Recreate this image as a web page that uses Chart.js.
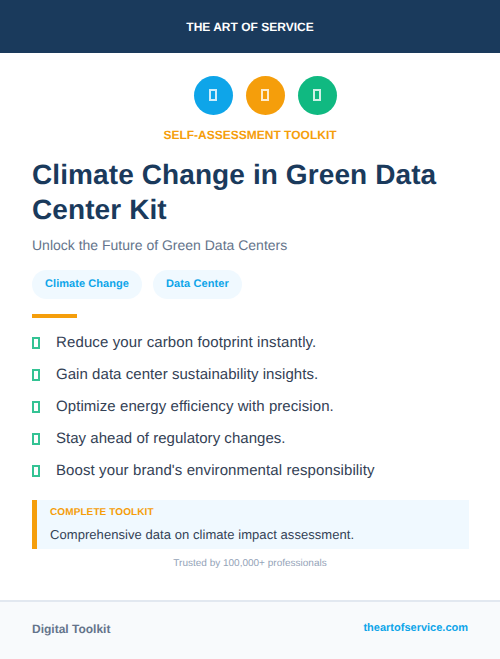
<!DOCTYPE html>
<html><head><meta charset="utf-8">
<script src="https://cdn.jsdelivr.net/npm/chart.js@4"></script>
<style>
html,body{margin:0;padding:0;background:#fff}
body{width:500px;height:659px;position:relative;overflow:hidden;font-family:"Liberation Sans",sans-serif;text-rendering:geometricPrecision}
.a{position:absolute;white-space:nowrap;line-height:1}
#hdr{left:0;top:0;width:500px;height:53px;background:#1a3a5c}
#ftr{left:0;top:600px;width:500px;height:59px;background:#f8fafc;border-top:2px solid #e2e8f0;box-sizing:border-box}
#chartBox{left:187px;top:70px;width:157px;height:51px}
#chartBox canvas{display:block}
.badge{width:8px;height:12px;top:89px;box-sizing:border-box;border:2px solid rgba(255,255,255,.8)}
.pill{top:270px;height:29px;line-height:29px;border-radius:15px;background:#f0f9ff;color:#0ea5e9;font-size:11px;font-weight:700;text-align:center}
.mk{left:32px;width:8px;height:12px;box-sizing:border-box;border:2px solid rgba(16,185,129,.85)}
.li{left:56px;font-size:15px;color:#334155}
.li:nth-of-type(2n){letter-spacing:.12px}
</style></head><body>
<div class="a" id="hdr"></div>
<div class="a" id="hdrText" style="left:0;width:500px;text-align:center;top:21px;font-size:12px;font-weight:700;color:#fff">THE ART OF SERVICE</div>
<div class="a" id="chartBox"><canvas id="c" width="157" height="51"></canvas></div>
<div class="a" style="left:0;width:500px;text-align:center;top:129px;font-size:12px;font-weight:700;color:#f59e0b">SELF-ASSESSMENT TOOLKIT</div>
<div class="a" style="left:32px;top:157px;font-size:28px;font-weight:700;color:#1a3a5c;line-height:35px;white-space:normal;width:436px;letter-spacing:.1px">Climate Change in Green Data Center Kit</div>
<div class="a" style="left:32px;top:238px;font-size:14px;color:#64748b">Unlock the Future of Green Data Centers</div>
<div class="a pill" style="left:32px;width:110px;letter-spacing:.05px">Climate Change</div>
<div class="a pill" style="left:153px;width:89px;letter-spacing:.1px">Data Center</div>
<div class="a" style="left:32px;top:314px;width:45px;height:4px;background:#f59e0b"></div>
<div id="list"></div>
<div class="a" style="left:32px;top:500px;width:437px;height:49px;background:#f0f9ff;border-left:5px solid #f59e0b;box-sizing:border-box"></div>
<div class="a" style="left:50px;top:508px;font-size:10px;font-weight:700;color:#f59e0b;letter-spacing:.1px">COMPLETE TOOLKIT</div>
<div class="a" style="left:50px;top:528px;font-size:13px;color:#334155;letter-spacing:.06px">Comprehensive data on climate impact assessment.</div>
<div class="a" style="left:0;width:500px;text-align:center;top:559px;font-size:10px;color:#94a3b8">Trusted by 100,000+ professionals</div>
<div class="a" id="ftr"></div>
<div class="a" style="left:32px;top:623px;font-size:12px;font-weight:700;color:#64748b">Digital Toolkit</div>
<div class="a" style="right:32px;top:623px;font-size:11px;font-weight:700;color:#0ea5e9">theartofservice.com</div>
<script>
const badgeSlots = ["a","b","c"];
const badgeLevels = [1,1,1];
const badgeColors = ["#0ea5e9","#f59e0b","#10b981"];
const benefits = [
  "Reduce your carbon footprint instantly.",
  "Gain data center sustainability insights.",
  "Optimize energy efficiency with precision.",
  "Stay ahead of regulatory changes.",
  "Boost your brand's environmental responsibility"
];
const benefitTracking = [.12,.05,.07,.03,.1];

new Chart(document.getElementById('c'), {
  type: 'line',
  data: { labels: badgeSlots, datasets: [{
    data: badgeLevels, showLine: false, clip: false, pointStyle: 'circle', pointRadius: 19.5, pointHoverRadius: 19.5,
    pointBorderWidth: 0, pointBackgroundColor: badgeColors }] },
  options: { responsive: false, animation: false, devicePixelRatio: 1,
    layout: { padding: { left: .5, right: .5, top: .5, bottom: .5 }, autoPadding: false },
    plugins: { legend: { display: false }, tooltip: { enabled: false } },
    scales: { x: { display: false, offset: true }, y: { display: false, min: 0, max: 2 } } }
});
badgeSlots.forEach((g,i)=>{
  const d=document.createElement('div'); d.className='a badge';
  d.style.left=(209+52*i)+'px'; document.body.appendChild(d);
});
benefits.forEach((t,i)=>{
  const m=document.createElement('div'); m.className='a mk'; m.style.top=(337+32*i)+'px';
  const l=document.createElement('div'); l.className='a li'; l.textContent=t; l.style.top=(335+32*i)+'px';
  l.style.letterSpacing=benefitTracking[i]+'px';
  document.getElementById('list').append(m,l);
});
</script>
</body></html>
